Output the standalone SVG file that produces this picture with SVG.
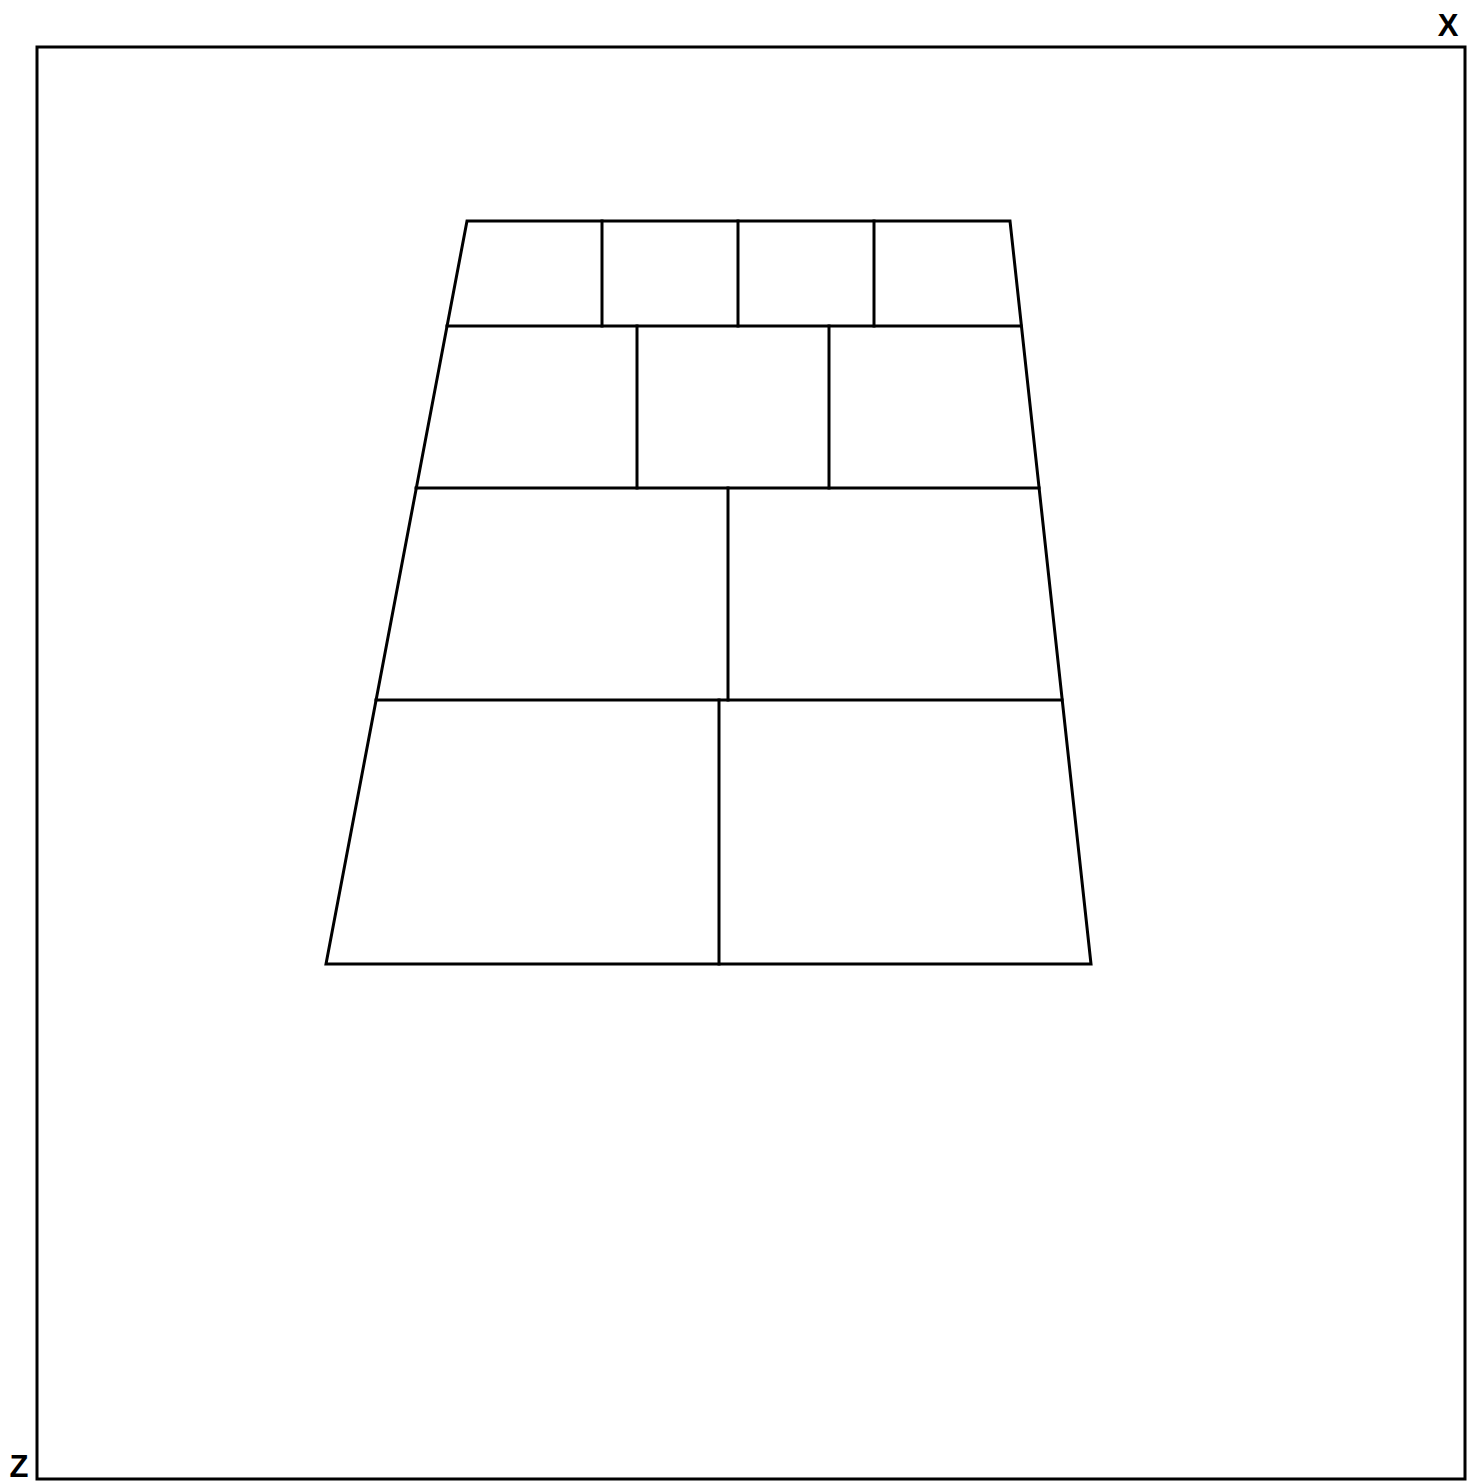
<svg xmlns="http://www.w3.org/2000/svg" width="1472" height="1484" viewBox="0 0 1472 1484">
<style>
.ln{stroke:#000;stroke-width:3;fill:none;stroke-linecap:square}
.lbl{font-family:"Liberation Sans",Arial,sans-serif;font-weight:bold;font-size:31px;fill:#000}
</style>
<rect width="1472" height="1484" fill="#fff"/>
<g id="frame">
<polyline class="ln" points="37,47 1465,47 1465,1479 37,1479 37,47"/>
<text class="lbl" x="1448" y="36" text-anchor="middle">X</text>
<text class="lbl" x="19" y="1477" text-anchor="middle">Z</text>
</g>
<g id="trapezoid">
<polygon class="ln" points="467,221 1010,221 1091,964 326,964"/>
<line class="ln" x1="447" y1="326" x2="1021" y2="326"/>
<line class="ln" x1="416" y1="488" x2="1039" y2="488"/>
<line class="ln" x1="376" y1="700" x2="1062" y2="700"/>
<line class="ln" x1="602" y1="221" x2="602" y2="326"/>
<line class="ln" x1="738" y1="221" x2="738" y2="326"/>
<line class="ln" x1="874" y1="221" x2="874" y2="326"/>
<line class="ln" x1="637" y1="326" x2="637" y2="488"/>
<line class="ln" x1="829" y1="326" x2="829" y2="488"/>
<line class="ln" x1="728" y1="488" x2="728" y2="700"/>
<line class="ln" x1="719" y1="700" x2="719" y2="964"/>
</g>
</svg>
